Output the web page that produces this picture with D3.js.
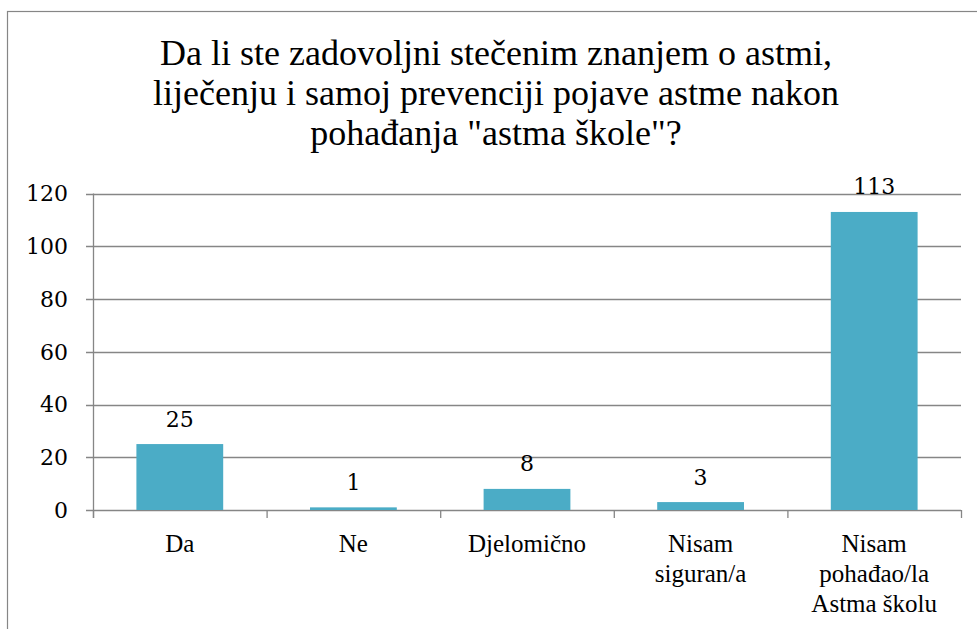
<!DOCTYPE html>
<html>
<head>
<meta charset="utf-8">
<script src="https://cdn.jsdelivr.net/npm/d3@7"></script>
</head>
<body style="margin:0">
<svg id="chart" width="977" height="629"></svg>
<script>
// chart data
const titleLines = ['Da li ste zadovoljni stečenim znanjem o astmi,',
    'liječenju i samoj prevenciji pojave astme nakon',
    'pohađanja "astma škole"?'];
const categories = ['Da', 'Ne', 'Djelomično', 'Nisam siguran/a', 'Nisam pohađao/la Astma školu'];
const categoryLines = [['Da'], ['Ne'], ['Djelomično'], ['Nisam', 'siguran/a'], ['Nisam', 'pohađao/la', 'Astma školu']];
const values = [25, 1, 8, 3, 113];
const yTicks = [0, 20, 40, 60, 80, 100, 120];

const width = 977;
const height = 629;
const margin = { top: 193.5, right: 16, bottom: 119, left: 93 };
const gridColor = '#868686';
const barColor = '#4BACC6';
const numFont = 'DejaVu Serif';

const svg = d3.select('#chart');

// outer chart frame
svg.append('rect')
    .attr('x', 7.5)
    .attr('y', 11.5)
    .attr('width', 1000)
    .attr('height', 700)
    .attr('fill', 'none')
    .attr('stroke', gridColor)
    .attr('stroke-width', 1.2);

// title
svg.selectAll('text.title')
    .data(titleLines)
    .join('text')
    .attr('class', 'title')
    .style('font-family', 'serif')
    .style('font-size', '36px')
    .attr('text-anchor', 'middle')
    .attr('x', 496)
    .attr('y', (d, i) => 65 + i * 40)
    .text(d => d);

const x = d3.scaleBand()
    .domain(categories)
    .range([margin.left, width - margin.right])
    .paddingInner(0.5)
    .paddingOuter(0.25);

const y = d3.scaleLinear()
    .domain([0, 120])
    .range([height - margin.bottom, margin.top]);

// gridlines (the 0 line is the axis)
svg.append('g')
    .selectAll('line')
    .data(yTicks)
    .join('line')
    .attr('x1', margin.left - 7)
    .attr('x2', width - margin.right)
    .attr('y1', d => Math.round(y(d)) + 0.5)
    .attr('y2', d => Math.round(y(d)) + 0.5)
    .attr('stroke', gridColor)
    .attr('stroke-width', 1.3);

// y tick labels
svg.selectAll('text.ytick')
    .data(yTicks)
    .join('text')
    .attr('class', 'ytick')
    .style('font-family', numFont)
    .style('font-size', '22px')
    .attr('x', 68)
    .attr('y', d => y(d))
    .attr('dy', '0.36em')
    .attr('text-anchor', 'end')
    .text(d => d);

// bars
svg.append('g')
    .selectAll('rect')
    .data(values)
    .join('rect')
    .attr('x', (d, i) => x(categories[i]))
    .attr('width', x.bandwidth())
    .attr('y', d => y(d))
    .attr('height', d => y(0) - y(d))
    .attr('fill', barColor);

// y axis line
svg.append('line')
    .attr('x1', margin.left + 0.5)
    .attr('x2', margin.left + 0.5)
    .attr('y1', y(120))
    .attr('y2', y(0) + 8)
    .attr('stroke', gridColor)
    .attr('stroke-width', 1.3);

// x axis boundary ticks
const step = x.step();
svg.append('g')
    .selectAll('line')
    .data(d3.range(categories.length + 1))
    .join('line')
    .attr('x1', i => margin.left + i * step + 0.5)
    .attr('x2', i => margin.left + i * step + 0.5)
    .attr('y1', y(0))
    .attr('y2', y(0) + 8)
    .attr('stroke', gridColor)
    .attr('stroke-width', 1.3);

// value labels
svg.selectAll('text.val')
    .data(values)
    .join('text')
    .attr('class', 'val')
    .style('font-family', numFont)
    .style('font-size', '22px')
    .attr('x', (d, i) => x(categories[i]) + x.bandwidth() / 2)
    .attr('y', d => y(d) - 17.5)
    .attr('text-anchor', 'middle')
    .text(d => d);

// category labels, one text per line
const catRows = categoryLines.flatMap((lines, i) => lines.map((t, j) => ({ t, i, j })));
svg.selectAll('text.cat')
    .data(catRows)
    .join('text')
    .attr('class', 'cat')
    .style('font-family', 'serif')
    .style('font-size', '25px')
    .attr('text-anchor', 'middle')
    .attr('x', d => x(categories[d.i]) + x.bandwidth() / 2)
    .attr('y', d => 552 + d.j * 30)
    .text(d => d.t);
</script>
</body>
</html>
